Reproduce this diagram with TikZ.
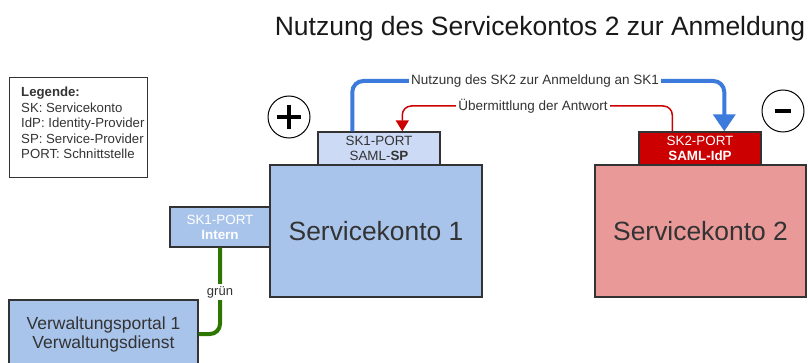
\documentclass[tikz,border=0pt]{standalone}
\usepackage{fontspec}
\setmainfont{Liberation Sans}
\usetikzlibrary{arrows.meta,calc}
\definecolor{skblue}{HTML}{A9C4EB}
\definecolor{portblue}{HTML}{CCDAF5}
\definecolor{skred}{HTML}{EA9999}
\definecolor{portred}{HTML}{CC0000}
\definecolor{edge}{HTML}{333333}
\definecolor{flowblue}{HTML}{3C7ADB}
\definecolor{flowred}{HTML}{CC0000}
\definecolor{flowgreen}{HTML}{2D7600}
\definecolor{txt}{HTML}{333333}
\tikzset{
  box/.style={draw=edge, line width=1.4pt, rectangle, inner sep=0pt, align=center, text=txt},
  lbl/.style={fill=white, inner sep=2pt, font=\fontsize{13.5}{15}\selectfont, text=txt},
  portfont/.style={font=\fontsize{13.4}{15}\selectfont},
}
\begin{document}
\begin{tikzpicture}[x=1pt,y=-1pt]
\useasboundingbox (0,0) rectangle (808,363);

% title
\node[font=\fontsize{26.5}{30}\selectfont, text=black!90] (title) at (540,29) {Nutzung des Servicekontos 2 zur Anmeldung};

% legend
\node[box, minimum width=138, minimum height=100, anchor=north west] (legend) at (9,77) {};
\node[anchor=north west, align=left, font=\fontsize{13.2}{15.5}\selectfont, text=txt, inner sep=0pt] (legtext) at (21,87)
  {\textbf{Legende:}\\SK: Servicekonto\\IdP: Identity-Provider\\SP: Service-Provider\\PORT: Schnittstelle};

% service accounts
\node[box, fill=skblue, minimum width=212, minimum height=132, font=\fontsize{26.4}{30}\selectfont] (sk1) at (376,231) {Servicekonto 1};
\node[box, fill=skred, minimum width=211, minimum height=132, font=\fontsize{26.4}{30}\selectfont] (sk2) at (700.5,231) {Servicekonto 2};

% ports
\node[box, fill=portblue, portfont, minimum width=122, minimum height=33] (sk1saml) at (379,148.5) {SK1-PORT\\SAML-\textbf{SP}};
\node[box, fill=portred, portfont, minimum width=122, minimum height=33, text=white] (sk2saml) at (700,148.5) {SK2-PORT\\\textbf{SAML-IdP}};
\node[box, fill=skblue, portfont, minimum width=100, minimum height=40, text=white] (sk1int) at (220,227) {SK1-PORT\\\textbf{Intern}};

% portal
\node[box, fill=skblue, minimum width=189, minimum height=68, font=\fontsize{17.5}{19}\selectfont] (vp) at (103.5,334) {Verwaltungsportal 1\\Verwaltungsdienst};

% plus / minus markers
\node[draw=black, line width=1pt, circle, minimum size=42, inner sep=0pt] (plus) at (289,117) {};
\draw[line width=3.5pt] ($(plus.center)+(-12,0)$) -- ($(plus.center)+(12,0)$)
  ($(plus.center)+(0,-12)$) -- ($(plus.center)+(0,12)$);
\node[draw=black, line width=1pt, circle, minimum size=42, inner sep=0pt] (minus) at (783,111) {};
\draw[line width=3.5pt] ($(minus.center)+(-8,0)$) -- ($(minus.center)+(8,0)$);

% request flow SK1 -> SK2
\coordinate (bs) at ($(sk1saml.north west)+(35,0)$);
\coordinate (be) at ($(sk2saml.north west)+(86,0)$);
\draw[flowblue, line width=4pt, rounded corners=11, -{Triangle[length=17pt,width=22pt]}]
  (bs) -- (bs |- 0,81) -- (be |- 0,81) -- (be);
\node[lbl] (blbl) at (535,81) {Nutzung des SK2 zur Anmeldung an SK1};

% response flow SK2 -> SK1
\coordinate (rs) at ($(sk2saml.north west)+(34,0)$);
\coordinate (re) at ($(sk1saml.north west)+(85,0)$);
\draw[flowred, line width=1.5pt, rounded corners=9, -{Triangle[length=11pt,width=13pt]}]
  (rs) -- (rs |- 0,106) -- (re |- 0,106) -- (re);
\node[lbl] (rlbl) at (533,106) {Übermittlung der Antwort};

% internal connection
\draw[flowgreen, line width=4pt, rounded corners=10]
  (sk1int.south) -- (sk1int.south |- vp.east) -- (vp.east);
\node[lbl, font=\fontsize{13}{15}\selectfont] (glbl) at (220,292) {grün};
\end{tikzpicture}
\end{document}
